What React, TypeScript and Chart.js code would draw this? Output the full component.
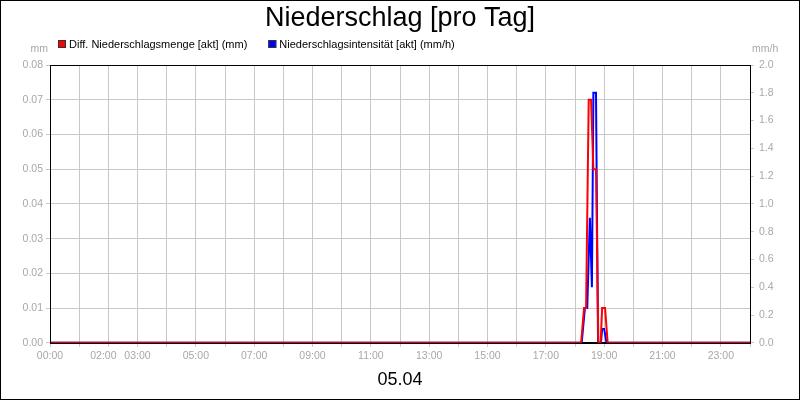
import { useEffect, useRef } from "react";
import { Chart, registerables, Plugin } from "chart.js";

Chart.register(...registerables);

// Niederschlag, Stunden des Tages (05.04)
const mengeHours = [0, 18.21, 18.31, 18.38, 18.47, 18.55, 18.63, 18.72, 18.8, 18.88, 18.93, 19.03, 19.12, 24];
const mengeValues = [0, 0, 0.01, 0.01, 0.07, 0.07, 0.05, 0.05, 0, 0, 0.01, 0.01, 0, 0];

const intensHours = [0, 18.23, 18.34, 18.42, 18.51, 18.58, 18.63, 18.72, 18.79, 18.89, 18.93, 19.0, 19.08, 24];
const intensValues = [0, 0, 0.25, 0.25, 0.9, 0.4, 1.8, 1.8, 0, 0, 0.1, 0.1, 0, 0];

const xTickHours = [0, 1.83, 3, 5, 7, 9, 11, 13, 15, 17, 19, 21, 23];
const xTickLabels = ["00:00", "02:00", "03:00", "05:00", "07:00", "09:00", "11:00", "13:00", "15:00", "17:00", "19:00", "21:00", "23:00"];

const seriesLabels = ["Diff. Niederschlagsmenge [akt] (mm)", "Niederschlagsintensität [akt] (mm/h)"];
const seriesColors = ["#ff0000", "#0000ff"];
const unitLeft = "mm";
const unitRight = "mm/h";
const dayLabel = "05.04";

const FONT = "'Liberation Sans', Arial, sans-serif";
const GRID = "#c8c8c8";
const TICK = "#a8a8a8";

const framePlugin: Plugin<"line"> = {
    id: "frame",
    afterDraw(chart) {
        const { ctx, chartArea } = chart;
        ctx.save();
        // Rahmen um den Plotbereich
        ctx.strokeStyle = "#000";
        ctx.lineWidth = 1;
        ctx.strokeRect(Math.round(chartArea.left) + 0.5, Math.round(chartArea.top) + 0.5,
            Math.round(chartArea.width), Math.round(chartArea.height));
        // Rahmen ums Bild
        ctx.strokeRect(0.5, 0.5, chart.width - 1, chart.height - 1);

        // Einheiten
        ctx.font = `10.5px ${FONT}`;
        ctx.fillStyle = TICK;
        ctx.textBaseline = "middle";
        ctx.textAlign = "right";
        ctx.fillText(unitLeft, chartArea.left - 2, 49);
        ctx.textAlign = "left";
        ctx.fillText(unitRight, chartArea.right + 2, 49);

        // Legende
        ctx.font = `11px ${FONT}`;
        let x = chartArea.left + 8;
        chart.data.datasets.forEach((ds) => {
            ctx.fillStyle = ds.borderColor as string;
            ctx.fillRect(x, 40, 8, 8);
            ctx.strokeStyle = "#333";
            ctx.strokeRect(x + 0.5, 40.5, 7, 7);
            ctx.fillStyle = "#000";
            ctx.fillText(ds.label as string, x + 11, 44.5);
            x += 11 + ctx.measureText(ds.label as string).width + 21;
        });
        ctx.restore();
    },
};

export default function App() {
    const canvasRef = useRef<HTMLCanvasElement | null>(null);
    const chartRef = useRef<Chart<"line"> | null>(null);

    useEffect(() => {
        document.body.style.margin = "0";
        if (!canvasRef.current) return;
        if (chartRef.current) chartRef.current.destroy();

        Chart.defaults.font.family = FONT;

        chartRef.current = new Chart(canvasRef.current, {
            type: "line",
            data: {
                datasets: [
                    {
                        label: seriesLabels[0],
                        data: mengeHours.map((h, i) => ({ x: h, y: mengeValues[i] })),
                        borderColor: seriesColors[0],
                        backgroundColor: seriesColors[0],
                        borderWidth: 2,
                        pointRadius: 0,
                        tension: 0,
                        yAxisID: "y",
                    },
                    {
                        label: seriesLabels[1],
                        data: intensHours.map((h, i) => ({ x: h, y: intensValues[i] })),
                        borderColor: seriesColors[1],
                        backgroundColor: seriesColors[1],
                        borderWidth: 2,
                        pointRadius: 0,
                        tension: 0,
                        yAxisID: "y1",
                    },
                ],
            },
            options: {
                animation: false,
                responsive: true,
                maintainAspectRatio: false,
                layout: { padding: { top: 0, bottom: 5, left: 0, right: 0 } },
                plugins: {
                    title: {
                        display: true,
                        text: "Niederschlag [pro Tag]",
                        color: "#000",
                        font: { size: 27, weight: "normal", lineHeight: 1.2 },
                        padding: { top: 2, bottom: 30.6 },
                    },
                    legend: { display: false },
                    tooltip: { enabled: false },
                },
                scales: {
                    x: {
                        type: "linear",
                        min: 0,
                        max: 24,
                        ticks: { stepSize: 1, display: false },
                        grid: { color: GRID, tickLength: 4 },
                        border: { color: "#000" },
                    },
                    xLabels: {
                        type: "linear",
                        position: "bottom",
                        min: 0,
                        max: 24,
                        afterBuildTicks: (scale) => {
                            scale.ticks = xTickHours.map((v) => ({ value: v }));
                        },
                        ticks: {
                            autoSkip: false,
                            maxRotation: 0,
                            padding: 3,
                            color: TICK,
                            font: { size: 10.5 },
                            callback: (_v, i) => xTickLabels[i],
                        },
                        grid: { display: false, drawTicks: false },
                        border: { display: false },
                        title: {
                            display: true,
                            text: dayLabel,
                            color: "#000",
                            font: { size: 18 },
                            padding: { top: 4, bottom: 4 },
                        },
                    },
                    y: {
                        position: "left",
                        min: 0,
                        max: 0.08,
                        ticks: {
                            stepSize: 0.01,
                            padding: 3,
                            color: TICK,
                            font: { size: 10.5 },
                            callback: (v) => Number(v).toFixed(2),
                        },
                        grid: { color: GRID, tickLength: 4 },
                        border: { color: "#000" },
                        afterFit: (scale) => {
                            scale.width = 50;
                        },
                    },
                    y1: {
                        position: "right",
                        min: 0,
                        max: 2,
                        ticks: {
                            stepSize: 0.2,
                            padding: 5,
                            color: TICK,
                            font: { size: 10.5 },
                            callback: (v) => Number(v).toFixed(1),
                        },
                        grid: { color: GRID, tickLength: 4, drawOnChartArea: false },
                        border: { color: "#000" },
                        afterFit: (scale) => {
                            scale.width = 50;
                        },
                    },
                },
            },
            plugins: [framePlugin],
        });

        return () => {
            if (chartRef.current) {
                chartRef.current.destroy();
                chartRef.current = null;
            }
        };
    }, []);

    return (
        <div style={{ width: 800, height: 400, position: "relative" }}>
            <canvas ref={canvasRef}></canvas>
        </div>
    );
}
